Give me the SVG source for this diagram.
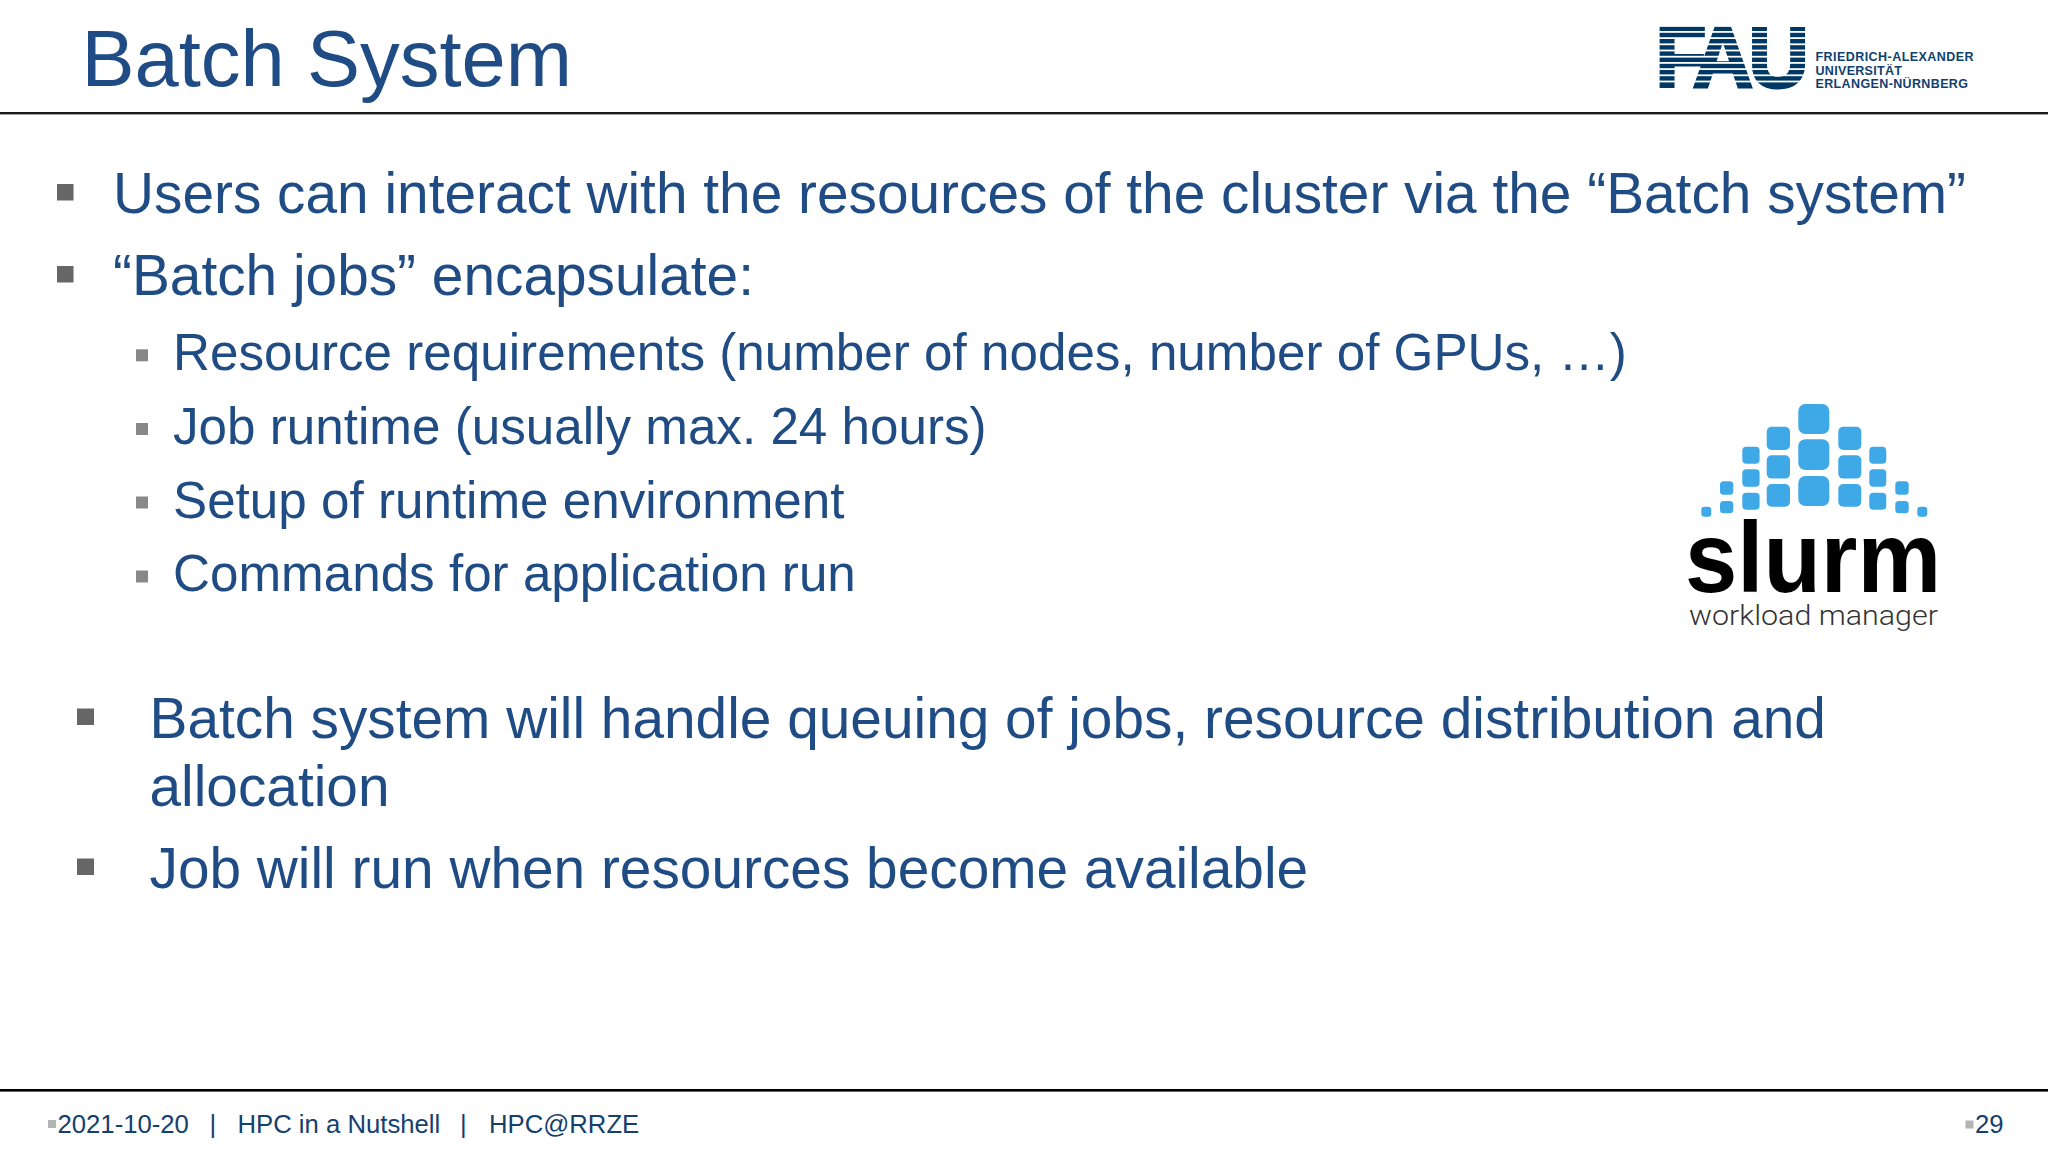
<svg xmlns="http://www.w3.org/2000/svg" width="2048" height="1152" viewBox="0 0 2048 1152">
<style>
text{font-family:"Liberation Sans",Arial,sans-serif}
.t{font-size:79.5px;fill:#1f4c84}
.b{font-size:56.8px;fill:#1f4c84}
.s{font-size:51.2px;fill:#1f4c84}
.f{font-size:25.7px;fill:#153f6e}
.u{font-size:12.5px;font-weight:bold;fill:#0f3f6e}
.blk{font-weight:bold;fill:#003865;stroke:#003865;stroke-width:3px}
.bl1{fill:#666}
.bl2{fill:#888}
.bl3{fill:#b4b4b4}
.c{fill:#3fa9e8}
</style>
<rect width="2048" height="1152" fill="#fff"/>
<g id="header">
<text class="t" x="81.5" y="85.5">Batch System</text>
<rect x="0" y="112" width="2048" height="2.4" fill="#1a1a1a"/>
</g>
<g id="fau-logo">
<text class="blk" font-size="86" transform="translate(1655.5,86.5) scale(.97,1)" x="0 38.5 96" y="0">FAU</text>
<g fill="#fff">
<rect x="1650" y="20" width="160" height="6.7"/>
<rect x="1650" y="31" width="160" height="1.8"/>
<rect x="1650" y="37.2" width="160" height="1.8"/>
<rect x="1650" y="43.4" width="160" height="1.8"/>
<rect x="1650" y="49.6" width="160" height="1.8"/>
<rect x="1650" y="55.8" width="160" height="1.8"/>
<rect x="1650" y="62" width="160" height="1.8"/>
<rect x="1650" y="68.2" width="160" height="1.8"/>
<rect x="1650" y="74.4" width="160" height="1.8"/>
<rect x="1650" y="80.6" width="160" height="1.8"/>
</g>
<text class="u" x="1815.5" y="61" textLength="158">FRIEDRICH-ALEXANDER</text>
<text class="u" x="1815.5" y="74.5" textLength="86.5">UNIVERSITÄT</text>
<text class="u" x="1815.5" y="88" textLength="152.5">ERLANGEN-NÜRNBERG</text>
</g>
<g id="bullets-top">
<rect class="bl1" x="57" y="184" width="16.5" height="16.5"/>
<text class="b" x="113" y="212.8">Users can interact with the resources of the cluster via the “Batch system”</text>
<rect class="bl1" x="57" y="266" width="16.5" height="16.5"/>
<text class="b" x="113" y="294.8">“Batch jobs” encapsulate:</text>
</g>
<g id="bullets-sub">
<rect class="bl2" x="136" y="349.3" width="12" height="12"/>
<text class="s" x="173" y="370">Resource requirements (number of nodes, number of GPUs, …)</text>
<rect class="bl2" x="136" y="423" width="12" height="12"/>
<text class="s" x="173" y="444">Job runtime (usually max. 24 hours)</text>
<rect class="bl2" x="136" y="496.5" width="12" height="12"/>
<text class="s" x="173" y="517.6">Setup of runtime environment</text>
<rect class="bl2" x="136" y="570.5" width="12" height="12"/>
<text class="s" x="173" y="591">Commands for application run</text>
</g>
<g id="slurm-logo">
<rect class="c" x="1798.3" y="404" width="31" height="30" rx="7"/>
<rect class="c" x="1798.3" y="439.3" width="31" height="30.7" rx="7"/>
<rect class="c" x="1798.3" y="476" width="31" height="30" rx="7"/>
<rect class="c" x="1766.7" y="426.7" width="23.3" height="23.3" rx="5"/>
<rect class="c" x="1766.7" y="455.3" width="23.3" height="23.3" rx="5"/>
<rect class="c" x="1766.7" y="484" width="23.3" height="22.7" rx="5"/>
<rect class="c" x="1838.3" y="426.7" width="23" height="23.3" rx="5"/>
<rect class="c" x="1838.3" y="455.3" width="23" height="23.3" rx="5"/>
<rect class="c" x="1838.3" y="484" width="23" height="22.7" rx="5"/>
<rect class="c" x="1742.3" y="446.7" width="17.3" height="17" rx="4"/>
<rect class="c" x="1742.3" y="469.3" width="17.3" height="17.4" rx="4"/>
<rect class="c" x="1742.3" y="492.7" width="17.3" height="17" rx="4"/>
<rect class="c" x="1869.3" y="446.7" width="17" height="17" rx="4"/>
<rect class="c" x="1869.3" y="469.3" width="17" height="17.4" rx="4"/>
<rect class="c" x="1869.3" y="492.7" width="17" height="17" rx="4"/>
<rect class="c" x="1720" y="481.3" width="13.3" height="13.4" rx="3.5"/>
<rect class="c" x="1720" y="501" width="13.3" height="12.3" rx="3.5"/>
<rect class="c" x="1895.3" y="481.3" width="13.4" height="13.4" rx="3.5"/>
<rect class="c" x="1895.3" y="501" width="13.4" height="12.3" rx="3.5"/>
<rect class="c" x="1701.3" y="506.7" width="10" height="10" rx="3"/>
<rect class="c" x="1917.3" y="506.7" width="10" height="10" rx="3"/>
<text x="1685" y="592" font-size="100" font-weight="bold" fill="#000" textLength="256" lengthAdjust="spacingAndGlyphs">slurm</text>
<text x="1689" y="625" font-size="27" font-weight="300" fill="#333" style="font-family:Roboto,sans-serif" textLength="249" lengthAdjust="spacingAndGlyphs">workload manager</text>
</g>
<g id="bullets-bottom">
<rect class="bl1" x="77" y="708.5" width="17" height="16.5"/>
<text class="b" x="149.5" y="737.7">Batch system will handle queuing of jobs, resource distribution and</text>
<text class="b" x="149.5" y="805.7">allocation</text>
<rect class="bl1" x="77" y="858.5" width="17" height="16.5"/>
<text class="b" x="149.5" y="887.7">Job will run when resources become available</text>
</g>
<g id="footer">
<rect x="0" y="1089" width="2048" height="2.6" fill="#000"/>
<rect class="bl3" x="48" y="1120" width="8" height="8"/>
<text class="f" x="57.5" y="1133.3">2021-10-20</text>
<text class="f" x="209.5" y="1133.3">|</text>
<text class="f" x="237.5" y="1133.3">HPC in a Nutshell</text>
<text class="f" x="460" y="1133.3">|</text>
<text class="f" x="489" y="1133.3">HPC@RRZE</text>
<rect class="bl3" x="1965.5" y="1120.5" width="8" height="8"/>
<text class="f" x="1975" y="1133.3">29</text>
</g>
</svg>
